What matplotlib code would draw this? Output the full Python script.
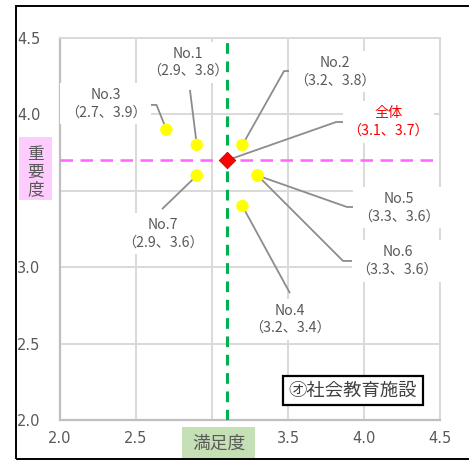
"""
Satisfaction vs importance scatter for social education facilities (No.1-No.7)
with the overall average marked by dashed reference lines.
"""
import numpy as np
import matplotlib
matplotlib.use("Agg")
import matplotlib.pyplot as plt
from matplotlib.patches import Rectangle

plt.rcParams["font.family"] = ["Noto Sans CJK JP", "DejaVu Sans"]

# ---- data -------------------------------------------------------------------
names = ["No.1", "No.2", "No.3", "No.4", "No.5", "No.6", "No.7"]
satisfaction = [2.9, 3.2, 2.7, 3.2, 3.3, 3.3, 2.9]
importance = [3.8, 3.8, 3.9, 3.4, 3.6, 3.6, 3.6]
overall_name = "全体"
overall_sat = 3.1
overall_imp = 3.7
ticks = [2.0, 2.5, 3.0, 3.5, 4.0, 4.5]
x_title = "満足度"
y_title = "重要度"
panel_title = "㋔社会教育施設"

# ---- label layout (text centre, leader bend points) in data coords ----------
label_pos = {
    "No.1": ((2.84, 4.34), [(2.855, 4.16)]),
    "No.2": ((3.81, 4.28), [(3.474, 4.284), (3.546, 4.284)]),
    "No.3": ((2.30, 4.07), [(2.635, 4.062), (2.56, 4.062)]),
    "No.4": ((3.51, 2.66), [(3.513, 2.83)]),
    "No.5": ((4.23, 3.39), [(3.888, 3.394), (3.967, 3.394)]),
    "No.6": ((4.22, 3.04), [(3.862, 3.041), (3.941, 3.041)]),
    "No.7": ((2.68, 3.22), [(2.671, 3.38)]),
    "全体": ((4.16, 3.95), [(3.816, 3.950), (3.888, 3.950)]),
}

GREY = "#595959"
LEAD = "#8c8c8c"
W, H = 469, 461

fig = plt.figure(figsize=(W / 100, H / 100), dpi=100)
ax = fig.add_axes([60 / W, 1 - 420 / H, 380 / W, 382 / H])

ax.set_xlim(2.0, 4.5)
ax.set_ylim(2.0, 4.5)
ax.set_xticks(ticks)
ax.set_yticks(ticks)
# 3.0 (x) and 3.5 (y) sit under the axis-title boxes in the original
ax.set_xticklabels(["" if t == 3.0 else f"{t:.1f}" for t in ticks])
ax.set_yticklabels(["" if t == 3.5 else f"{t:.1f}" for t in ticks])
ax.tick_params(length=0, labelsize=10.5, labelcolor=GREY)
ax.tick_params(axis="y", pad=14)
ax.tick_params(axis="x", pad=8)
for lab in ax.get_xticklabels() + ax.get_yticklabels():
    lab.set_family("DejaVu Sans")
ax.grid(color="#d9d9d9", lw=1.4, zorder=0)
ax.set_axisbelow(True)
for s in ("left", "bottom"):
    ax.spines[s].set_color("#bfbfbf")
    ax.spines[s].set_linewidth(1.6)
for s in ("top", "right"):
    ax.spines[s].set_color("#d9d9d9")
    ax.spines[s].set_linewidth(1.4)

# reference lines at the overall average
ax.axvline(overall_sat, color="#00b050", lw=2.2, ls=(0, (3.5, 2.5)), zorder=6)
ax.axhline(overall_imp, color="#ff66ff", lw=1.8, ls=(0, (5, 3)), zorder=6)

# leaders + labels
def draw_label(name, x, y, color):
    (tx, ty), bends = label_pos[name]
    xs = [x] + [b[0] for b in bends]
    ys = [y] + [b[1] for b in bends]
    ax.plot(xs, ys, color=LEAD, lw=1.3, zorder=3, solid_capstyle="butt")
    ax.text(tx, ty, f"{name}\n（{x:.1f}、{y:.1f}）", ha="center", va="center",
            fontsize=10.2, color=color, linespacing=1.3, zorder=4,
            bbox=dict(boxstyle="square,pad=0.35", fc="white", ec="none"))

for n, sx, iy in zip(names, satisfaction, importance):
    draw_label(n, sx, iy, GREY)
draw_label(overall_name, overall_sat, overall_imp, "#ff0000")

ax.scatter(satisfaction, importance, s=80, color="#ffff00", edgecolors="none", zorder=7)
ax.scatter([overall_sat], [overall_imp], s=70, marker="D", color="#ff0000",
           edgecolors="#c00000", linewidths=0.6, zorder=8)

# panel title box
ax.text(0.771, 0.078, panel_title, transform=ax.transAxes, ha="center", va="center",
        fontsize=13.2, color="#404040", zorder=9,
        bbox=dict(boxstyle="square,pad=0.3", fc="white", ec="black", lw=1.6))

# axis titles in coloured boxes
fig.add_artist(Rectangle((182 / W, 1 - 460 / H), 73 / W, 33 / H, transform=fig.transFigure,
                         fc="#c5e0b4", ec="none", zorder=5))
fig.text(218.5 / W, 1 - 444 / H, x_title, ha="center", va="center", fontsize=12.8,
         color=GREY, zorder=6)
fig.add_artist(Rectangle((19 / W, 1 - 200 / H), 33 / W, 63 / H, transform=fig.transFigure,
                         fc="#ffccff", ec="none", zorder=5))
fig.text(35.5 / W, 1 - 172 / H, "\n".join(y_title), ha="center", va="center",
         fontsize=12, color=GREY, linespacing=1.05, zorder=6)

# outer chart border (right edge cropped in the original)
fig.add_artist(Rectangle((16 / W, 1 - 459 / H), 1.2, 453 / H, transform=fig.transFigure,
                         fc="none", ec="black", lw=1.4, zorder=10))

fig.savefig("out.png", dpi=100)
